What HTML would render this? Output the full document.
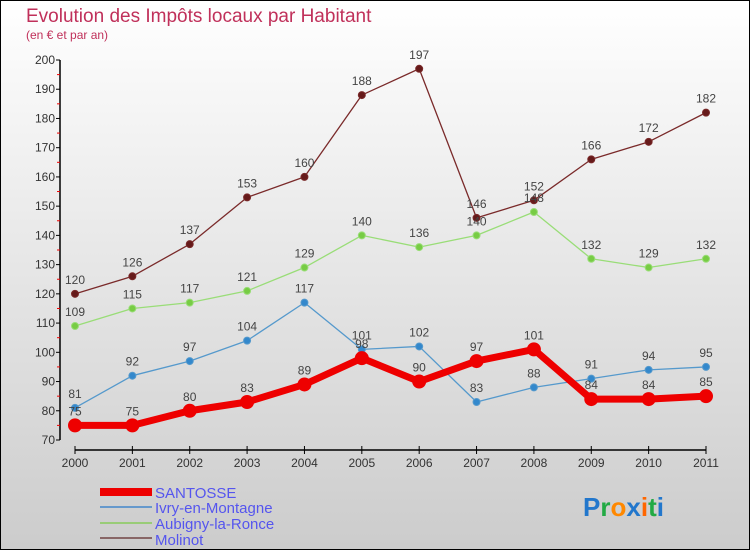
<!DOCTYPE html>
<html><head><meta charset="utf-8"><style>
body{margin:0;padding:0}
svg{display:block;font-family:"Liberation Sans",sans-serif}
</style></head><body>
<svg width="750" height="550" viewBox="0 0 750 550" xmlns="http://www.w3.org/2000/svg">
<defs><linearGradient id="bg" x1="0" y1="0" x2="0" y2="1"><stop offset="0" stop-color="#ffffff"/><stop offset="1" stop-color="#cccccc"/></linearGradient></defs>
<rect x="0.5" y="0.5" width="749" height="549" fill="url(#bg)" stroke="#000" stroke-width="1"/>
<text x="26" y="22" font-size="19" fill="#c0305a">Evolution des Impôts locaux par Habitant</text>
<text x="26" y="39" font-size="12" fill="#c0305a">(en € et par an)</text>
<g id="axes"></g>
<g id="series"></g>
<g>
<rect x="100" y="488" width="52" height="8" fill="#ee0000"/>
<text x="155" y="498" font-size="15" fill="#5555ee">SANTOSSE</text>
<rect x="100" y="506" width="52" height="2" fill="#6699cc"/>
<text x="155" y="513" font-size="15" fill="#5555ee">Ivry-en-Montagne</text>
<rect x="100" y="522" width="52" height="2" fill="#99cc77"/>
<text x="155" y="529" font-size="15" fill="#5555ee">Aubigny-la-Ronce</text>
<rect x="100" y="537" width="52" height="2" fill="#886666"/>
<text x="155" y="545" font-size="15" fill="#5555ee">Molinot</text>
</g>
<text x="583" y="516" font-size="26" font-weight="bold"><tspan fill="#2277cc">P</tspan><tspan fill="#22aa44">r</tspan><tspan fill="#ff8800">o</tspan><tspan fill="#2277cc">x</tspan><tspan fill="#ff6600">i</tspan><tspan fill="#22aa44">t</tspan><tspan fill="#2277cc">i</tspan></text>
</svg>
<script>
const years=["2000","2001","2002","2003","2004","2005","2006","2007","2008","2009","2010","2011"];
const yTicks=[70,80,90,100,110,120,130,140,150,160,170,180,190,200];
const santosse=[75,75,80,83,89,98,90,97,101,84,84,85];
const ivry=[81,92,97,104,117,101,102,83,88,91,94,95];
const aubigny=[109,115,117,121,129,140,136,140,148,132,129,132];
const molinot=[120,126,137,153,160,188,197,146,152,166,172,182];
const NS="http://www.w3.org/2000/svg";
const X=i=>75+i*(706-75)/11;
const Y=v=>440-(v-70)*(380/130);
function mk(tag,attrs,parent){const e=document.createElementNS(NS,tag);for(const k in attrs)e.setAttribute(k,attrs[k]);parent.appendChild(e);return e;}
const ax=document.getElementById('axes');
let yl=mk('line',{x1:60,y1:Y(200),x2:60,y2:Y(70),stroke:'#000','stroke-width':1.5},ax);


yTicks.forEach(v=>{
 mk('line',{x1:56,y1:Y(v),x2:60,y2:Y(v),stroke:'#000'},ax);
 if(v<200) mk('line',{x1:57,y1:Y(v+5),x2:60,y2:Y(v+5),stroke:'#e00'},ax);
 let t=mk('text',{x:55,y:Y(v)+4,'font-size':12,'text-anchor':'end',fill:'#333'},ax);t.textContent=v;
 
 
});
let xl=mk('line',{x1:X(0),y1:450,x2:X(11),y2:450,stroke:'#000','stroke-width':1.5},ax);


years.forEach((y,i)=>{
 mk('line',{x1:X(i),y1:446,x2:X(i),y2:454,stroke:'#000'},ax);
 let t=mk('text',{x:X(i),y:467,'font-size':12,'text-anchor':'middle',fill:'#333'},ax);t.textContent=y;
 
 
});
const sg=document.getElementById('series');
function series(name,data,color,dot,w,r){
 const g=mk('g',{},sg);
 
 
 mk('polyline',{points:data.map((v,i)=>X(i)+','+Y(v)).join(' '),fill:'none',stroke:color,'stroke-width':w,'stroke-linejoin':'round'},g);
 data.forEach((v,i)=>{
  const c=mk('circle',{cx:X(i),cy:Y(v),r:r,fill:dot,stroke:color,'stroke-width':1},g);
  
  
  const t=mk('text',{x:X(i),y:Y(v)-10,'font-size':12,'text-anchor':'middle',fill:'#444'},g);t.textContent=v;
  
  
 });
}
series('molinot',molinot,'#7a2a2a','#661a1a',1.3,3.5);
series('aubigny',aubigny,'#99dd77','#77cc44',1.3,3.5);
series('ivry',ivry,'#5599cc','#3388cc',1.3,3.5);
series('santosse',santosse,'#ee0000','#ee0000',7,6.5);
</script>
</body></html>
